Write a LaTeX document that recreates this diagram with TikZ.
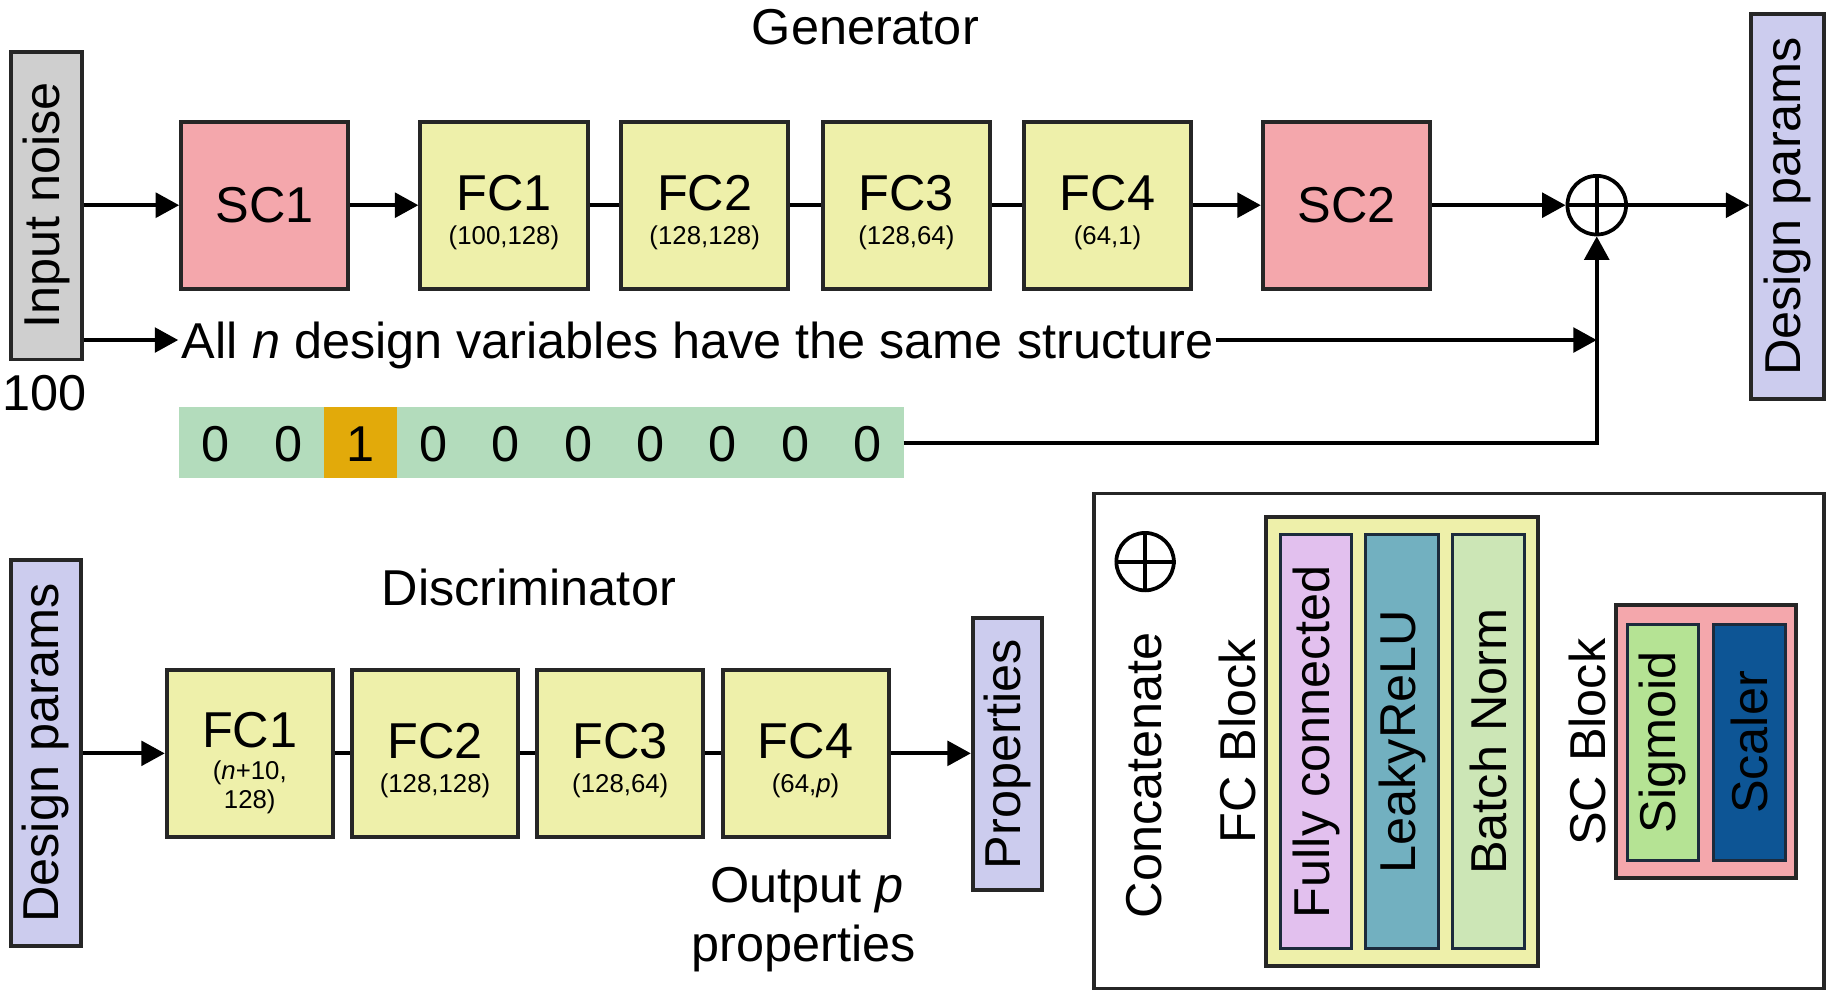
\documentclass[tikz,border=0pt]{standalone}
\usepackage{fontspec}
\setmainfont{Liberation Sans}
\usetikzlibrary{arrows.meta,calc}
\definecolor{fcyel}{HTML}{EEF0AA}
\definecolor{scpink}{HTML}{F4A7AC}
\definecolor{lav}{HTML}{CCCCEE}
\definecolor{noisegray}{HTML}{CFCFCF}
\definecolor{bargreen}{HTML}{B3DCBC}
\definecolor{hotorange}{HTML}{E2AA0A}
\definecolor{fcviolet}{HTML}{E2C0EE}
\definecolor{leakyteal}{HTML}{72B0C0}
\definecolor{bnormgreen}{HTML}{CCE6B6}
\definecolor{sigmgreen}{HTML}{B5E394}
\definecolor{scalerblue}{HTML}{0D5595}
\definecolor{innerline}{HTML}{1C2B3C}
\begin{document}
\begin{tikzpicture}[x=1pt,y=-1pt,
  font=\fontsize{43}{50}\selectfont,
  box/.style={draw=black!85, line width=3.4pt, inner sep=0pt, minimum width=142.6pt, minimum height=142.6pt},
  fcbox/.style={box, fill=fcyel},
  scbox/.style={box, fill=scpink},
  vbox/.style={draw=black!85, line width=3.4pt, inner sep=0pt, rotate=90},
  inbox/.style={draw=innerline, line width=2.6pt, inner sep=0pt, rotate=90},
  small/.style={font=\fontsize{22}{26}\selectfont},
  conn/.style={line width=3.3pt},
  arr/.style={conn, -{Triangle[length=20pt,width=21pt]}},
  catnode/.style={circle, draw=black, line width=3.2pt, inner sep=0pt},
  cell/.style={inner sep=0pt, minimum height=61pt}
]
\useasboundingbox (0,0) rectangle (1565,854);

% ---------------- Generator ----------------
\node (gtitle) at (738,23) {Generator};
\node[vbox, fill=noisegray, minimum width=262.6pt, minimum height=60.6pt] (noise) at (39.5,175.3) {Input noise};
\node (n100) at (38,335) {100};

\node[scbox] (sc1) at (225.8,175) {SC1};
\node[fcbox] (g1) at (429.8,175) {};
\node[fcbox] (g2) at (601,175) {};
\node[fcbox] (g3) at (773,175) {};
\node[fcbox] (g4) at (944.6,175) {};
\node[scbox] (sc2) at (1148.3,175) {SC2};

\node (g1t) at ($(g1.center)+(0,-10)$) {FC1};
\node[small] (g1s) at ($(g1.center)+(0,28)$) {(100,128)};
\node (g2t) at ($(g2.center)+(0,-10)$) {FC2};
\node[small] (g2s) at ($(g2.center)+(0,28)$) {(128,128)};
\node (g3t) at ($(g3.center)+(0,-10)$) {FC3};
\node[small] (g3s) at ($(g3.center)+(0,28)$) {(128,64)};
\node (g4t) at ($(g4.center)+(0,-10)$) {FC4};
\node[small] (g4s) at ($(g4.center)+(0,28)$) {(64,1)};

\node[catnode, minimum size=50pt] (cat) at (1361.8,175) {};
\draw[conn] (cat.north) -- (cat.south);
\draw[conn] (cat.west) -- (cat.east);

\node[vbox, fill=lav, minimum width=328.6pt, minimum height=61.6pt] (dp1) at (1524.5,176) {Design params};

\draw[arr] (noise.south |- sc1.west) -- (sc1.west);
\draw[arr] (sc1.east) -- (g1.west);
\draw[conn] (g1.east) -- (g2.west);
\draw[conn] (g2.east) -- (g3.west);
\draw[conn] (g3.east) -- (g4.west);
\draw[arr] (g4.east) -- (sc2.west);
\draw[arr] (sc2.east) -- (cat.west);
\draw[arr] (cat.east) -- (cat.east -| dp1.north);

\coordinate (sl) at (152,290);
\node[anchor=base west, inner sep=0pt] (struct) at (155,305.6) {All \textit{n} design variables have the same structure};
\draw[arr] (noise.south |- sl) -- (sl);
\draw[arr] ($(struct.east |- sl)+(2,0)$) -- (cat.south |- sl);

\node[cell, fill=bargreen, minimum width=617.5pt] (bar) at (461.8,377.5) {};
\node[cell, fill=hotorange, minimum width=61.8pt] (hot) at (307.5,377.5) {};
\foreach \i/\d in {0/0,1/0,2/1,3/0,4/0,5/0,6/0,7/0,8/0,9/0}
  \node (dig\i) at ({184+61.8*\i},379) {\d};
\draw[arr] (bar.east) -- (bar.east -| cat.south) -- (cat.south);

% ---------------- Discriminator ----------------
\node (dtitle) at (451,501) {Discriminator};
\node[vbox, fill=lav, minimum width=328.6pt, minimum height=60pt] (dp2) at (39,642.3) {Design params};
\node[fcbox, minimum width=141.6pt] (d1) at (213,642.5) {};
\node[fcbox, minimum width=141.6pt] (d2) at (371,642.5) {};
\node[fcbox, minimum width=141.6pt] (d3) at (529,642.5) {};
\node[fcbox, minimum width=141.6pt] (d4) at (687,642.5) {};
\node[vbox, fill=lav, minimum width=232.2pt, minimum height=58.6pt] (prop) at (859,643.3) {Properties};

\node (d1t) at ($(d1.center)+(0,-20)$) {FC1};
\node[small] (d1s) at ($(d1.center)+(0,17)$) {(\textit{n}+10,};
\node[small] (d1u) at ($(d1.center)+(0,41)$) {128)};
\node (d2t) at ($(d2.center)+(0,-10)$) {FC2};
\node[small] (d2s) at ($(d2.center)+(0,28)$) {(128,128)};
\node (d3t) at ($(d3.center)+(0,-10)$) {FC3};
\node[small] (d3s) at ($(d3.center)+(0,28)$) {(128,64)};
\node (d4t) at ($(d4.center)+(0,-10)$) {FC4};
\node[small] (d4s) at ($(d4.center)+(0,28)$) {(64,\textit{p})};

\draw[arr] (dp2.south |- d1.west) -- (d1.west);
\draw[conn] (d1.east) -- (d2.west);
\draw[conn] (d2.east) -- (d3.west);
\draw[conn] (d3.east) -- (d4.west);
\draw[arr] (d4.east) -- (d4.east -| prop.north);

\node[anchor=base] (outp) at (688,770) {Output \textit{p}};
\node[anchor=base] (outprop) at (685.5,820) {properties};

% ---------------- Legend ----------------
\node[draw=black!85, line width=2.8pt, inner sep=0pt, minimum width=622.5pt, minimum height=422.3pt] (legend) at (1244.35,631.85) {};
\node[catnode, minimum size=49pt] (lcat) at (976.6,479) {};
\draw[conn] (lcat.north) -- (lcat.south);
\draw[conn] (lcat.west) -- (lcat.east);
\node[rotate=90] (lcattxt) at (976,661) {Concatenate};

\node[rotate=90] (fcbl) at (1055.3,632) {FC Block};
\node[draw=black!85, line width=3.4pt, fill=fcyel, inner sep=0pt, minimum width=232.8pt, minimum height=383.3pt] (fcblock) at (1195.7,632.5) {};
\node[inbox, fill=fcviolet, minimum width=352.7pt, minimum height=60.2pt] (fcon) at (1122.4,632.5) {Fully connected};
\node[inbox, fill=leakyteal, minimum width=352.7pt, minimum height=62.3pt] (leaky) at (1195.8,632.5) {LeakyReLU};
\node[inbox, fill=bnormgreen, minimum width=352.7pt, minimum height=61pt] (bnorm) at (1269.4,632.5) {Batch Norm};

\node[rotate=90] (scbl) at (1354.3,633) {SC Block};
\node[draw=black!85, line width=3.4pt, fill=scpink, inner sep=0pt, minimum width=153.8pt, minimum height=232.5pt] (scblock) at (1454.8,632.5) {};
\node[inbox, fill=sigmgreen, minimum width=200.7pt, minimum height=60.2pt] (sigm) at (1418.2,633.2) {Sigmoid};
\node[inbox, fill=scalerblue, minimum width=200.7pt, minimum height=61.8pt] (scaler) at (1491.9,633.2) {Scaler};
\end{tikzpicture}
\end{document}
